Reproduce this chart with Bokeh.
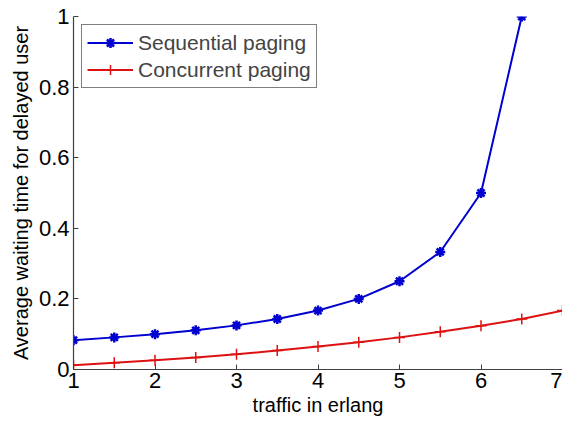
from bokeh.plotting import figure
from bokeh.models import Range1d, FixedTicker, Legend, LegendItem
from bokeh.embed import file_html
from bokeh.resources import INLINE

# traffic load (erlang) and average waiting time per paging scheme
traffic_seq = [1, 1.5, 2, 2.5, 3, 3.5, 4, 4.5, 5, 5.5, 6, 6.5]
wait_seq = [0.083, 0.091, 0.100, 0.111, 0.125, 0.143, 0.167, 0.200, 0.250, 0.333, 0.500, 1.000]

traffic_con = [1, 1.5, 2, 2.5, 3, 3.5, 4, 4.5, 5, 5.5, 6, 6.5, 7]
wait_con = [0.012, 0.019, 0.026, 0.034, 0.043, 0.054, 0.065, 0.077, 0.091, 0.107, 0.124, 0.143, 0.167]

x_ticks = [1, 2, 3, 4, 5, 6, 7]
y_ticks = [0, 0.2, 0.4, 0.6, 0.8, 1]
y_tick_labels = {0: "0", 0.2: "0.2", 0.4: "0.4", 0.6: "0.6", 0.8: "0.8", 1: "1"}

FONT = "Liberation Sans"
BLUE = "#0000d0"
RED = "#dd1111"

p = figure(width=562, height=424, output_backend="svg", toolbar_location=None,
           x_range=Range1d(1, 7), y_range=Range1d(0, 1),
           min_border_left=73, min_border_right=0, min_border_top=16, min_border_bottom=55)
p.outline_line_color = None
p.xgrid.visible = False
p.ygrid.visible = False

r1 = p.line(traffic_seq, wait_seq, line_color=BLUE, line_width=2)
m1 = p.scatter(traffic_seq, wait_seq, marker="asterisk", size=10, line_color=BLUE, line_width=2.5)
r2 = p.line(traffic_con, wait_con, line_color=RED, line_width=2)
m2 = p.scatter(traffic_con, wait_con, marker="cross", size=11, line_color=RED, line_width=1.5)

for ax in (p.xaxis, p.yaxis):
    ax.axis_line_color = "#404040"
    ax.axis_line_width = 1.2
    ax.major_tick_line_color = "#404040"
    ax.major_tick_in = 5
    ax.major_tick_out = 0
    ax.minor_tick_line_color = None
    ax.major_label_text_font = FONT
    ax.major_label_text_font_size = "22px"
    ax.major_label_text_color = "black"
    ax.axis_label_text_font = FONT
    ax.axis_label_text_font_size = "20px"
    ax.axis_label_text_font_style = "normal"
    ax.axis_label_text_color = "black"

p.xaxis.ticker = FixedTicker(ticks=x_ticks)
p.yaxis.ticker = FixedTicker(ticks=y_ticks)
p.yaxis.major_label_overrides = y_tick_labels
p.xaxis.axis_label = "traffic in erlang"
p.yaxis.axis_label = "Average waiting time for delayed user"
p.xaxis.major_label_standoff = 3
p.yaxis.major_label_standoff = 4
p.xaxis.axis_label_standoff = 3
p.yaxis.axis_label_standoff = 4

legend = Legend(items=[
    LegendItem(label="Sequential paging", renderers=[r1, m1]),
    LegendItem(label="Concurrent paging", renderers=[r2, m2]),
], location="top_left")
legend.margin = 8
legend.padding = 5
legend.spacing = 2
legend.label_text_font = FONT
legend.label_text_font_size = "21px"
legend.glyph_width = 46
legend.glyph_height = 25
legend.label_height = 25
legend.label_standoff = 5
legend.border_line_color = "black"
legend.border_line_width = 1
legend.background_fill_alpha = 1
p.add_layout(legend)

open("out.html", "w").write(file_html(p, INLINE))
